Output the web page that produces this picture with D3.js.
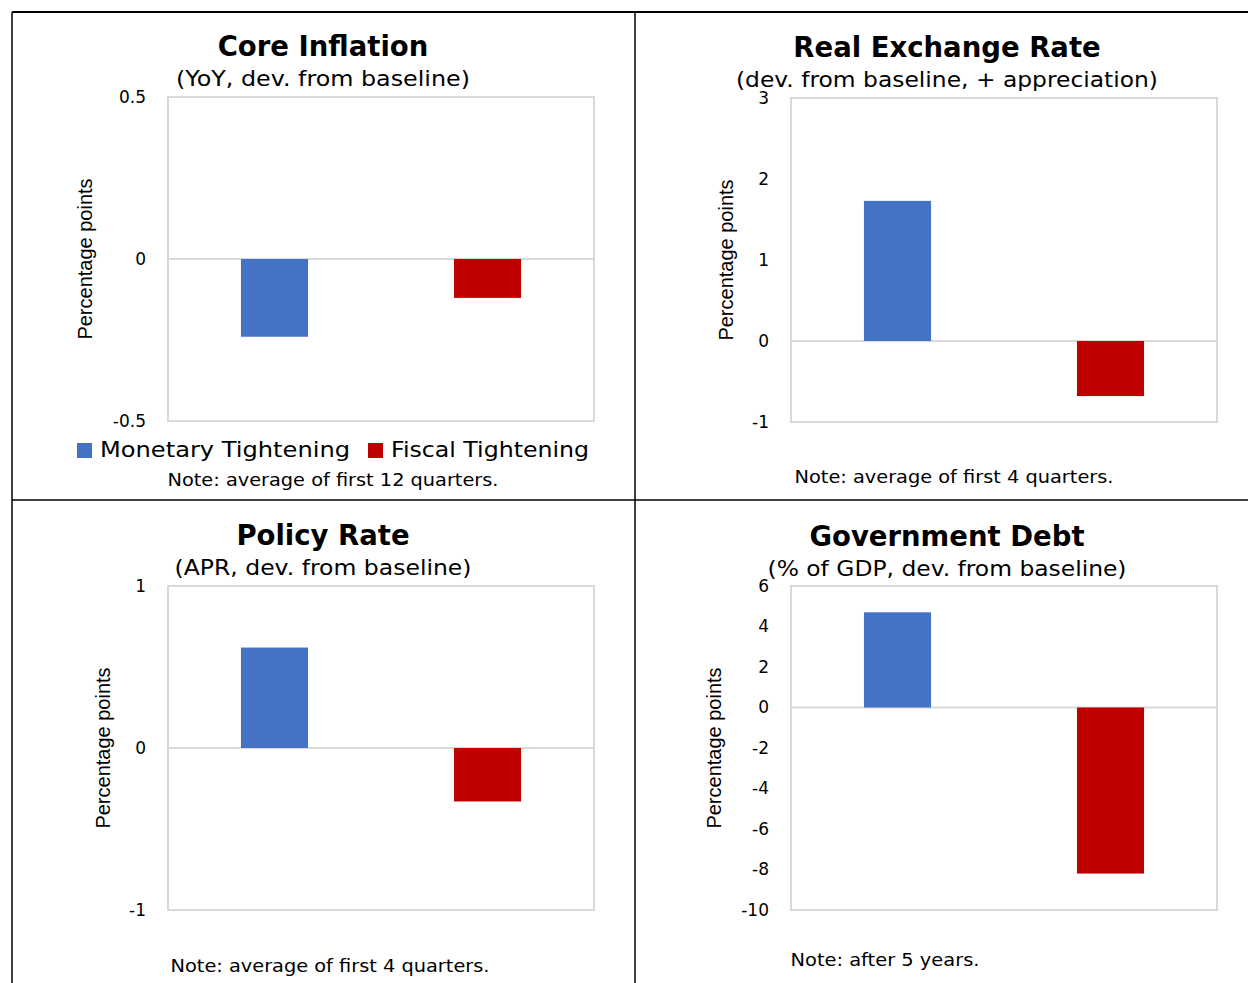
<!DOCTYPE html>
<html><head><meta charset="utf-8">
<script src="https://cdn.jsdelivr.net/npm/d3@7"></script>
<style>body{margin:0;background:#fff}</style></head>
<body><svg id="c" width="1248" height="983"></svg>
<script>
const categories = ["Monetary Tightening", "Fiscal Tightening"];
const colors = ["#4472c4", "#c00000"];
const titles = ["Core Inflation", "Real Exchange Rate", "Policy Rate", "Government Debt"];
const subtitles = ["(YoY, dev. from baseline)", "(dev. from baseline, + appreciation)", "(APR, dev. from baseline)", "(% of GDP, dev. from baseline)"];
const notes = ["Note: average of first 12 quarters.", "Note: average of first 4 quarters.", "Note: average of first 4 quarters.", "Note: after 5 years."];
const coreInflation = [-0.24, -0.12];
const realExchange = [1.73, -0.68];
const policyRate = [0.62, -0.33];
const govDebt = [4.7, -8.2];
const ticks = [[-0.5, 0, 0.5], [-1, 0, 1, 2, 3], [-1, 0, 1], [-10, -8, -6, -4, -2, 0, 2, 4, 6]];
const values = [coreInflation, realExchange, policyRate, govDebt];

const svg = d3.select("#c");
const font = "DejaVu Sans, Verdana, sans-serif";

// panel frame lines
svg.append("line").attr("x1", 12).attr("x2", 1248).attr("y1", 12).attr("y2", 12).attr("stroke", "#000").attr("stroke-width", 2);
svg.append("line").attr("x1", 12).attr("x2", 1248).attr("y1", 500).attr("y2", 500).attr("stroke", "#000").attr("stroke-width", 1.5);
svg.append("line").attr("x1", 12).attr("x2", 12).attr("y1", 12).attr("y2", 983).attr("stroke", "#000").attr("stroke-width", 1.5);
svg.append("line").attr("x1", 635).attr("x2", 635).attr("y1", 12).attr("y2", 983).attr("stroke", "#000").attr("stroke-width", 1.5);

const panels = [
  { x0: 168, y0: 97, cx: 323, titleY: 56, subY: 86, noteY: 486, yTitleX: 92, noteX: 333, subW: 294, noteW: 331 },
  { x0: 791, y0: 98, cx: 947, titleY: 57, subY: 87, noteY: 483, yTitleX: 733, noteX: 954, subW: 422, noteW: 319 },
  { x0: 168, y0: 586, cx: 323, titleY: 545, subY: 575, noteY: 972, yTitleX: 110, noteX: 330, subW: 297, noteW: 319 },
  { x0: 791, y0: 586, cx: 947, titleY: 546, subY: 576, noteY: 966, yTitleX: 721, noteX: 885, subW: 359, noteW: 189 },
];
const pw = 426, ph = 324;
const fmt = v => String(v);

panels.forEach((p, i) => {
  const g = svg.append("g");
  const domain = d3.extent(ticks[i]);
  const y = d3.scaleLinear().domain(domain).range([p.y0 + ph, p.y0]);
  const x = d3.scaleBand().domain(categories).range([p.x0, p.x0 + pw]).paddingInner(0.685).paddingOuter(0.3425);

  g.append("text").attr("x", p.cx).attr("y", p.titleY).attr("text-anchor", "middle")
    .attr("font-family", font).attr("font-weight", "bold").attr("font-size", 27.5).text(titles[i]);
  g.append("text").attr("x", p.cx).attr("y", p.subY).attr("text-anchor", "middle")
    .attr("font-family", font).attr("font-size", 22)
    .attr("textLength", p.subW).attr("lengthAdjust", "spacingAndGlyphs").text(subtitles[i]);

  g.append("rect").attr("x", p.x0).attr("y", p.y0).attr("width", pw).attr("height", ph)
    .attr("fill", "none").attr("stroke", "#d9d9d9").attr("stroke-width", 2);

  const ax = g.append("g").attr("transform", `translate(${p.x0 - 20},0)`)
    .call(d3.axisLeft(y).tickValues(ticks[i]).tickFormat(fmt).tickSize(0).tickPadding(2));
  ax.select(".domain").remove();
  ax.selectAll("text").attr("font-family", font).attr("font-size", 17).attr("fill", "#000");

  g.append("line").attr("x1", p.x0).attr("x2", p.x0 + pw).attr("y1", y(0)).attr("y2", y(0))
    .attr("stroke", "#d9d9d9").attr("stroke-width", 2);

  g.selectAll(".bar").data(values[i]).join("rect")
    .attr("x", (d, j) => x(categories[j])).attr("width", x.bandwidth())
    .attr("y", d => y(Math.max(0, d))).attr("height", d => Math.abs(y(d) - y(0)))
    .attr("fill", (d, j) => colors[j]);

  g.append("text").attr("transform", `translate(${p.yTitleX},${p.y0 + ph / 2}) rotate(-90)`)
    .attr("text-anchor", "middle").attr("font-family", "Liberation Sans Narrow, Arial Narrow, sans-serif")
    .attr("font-size", 20).text("Percentage points");

  g.append("text").attr("x", p.noteX).attr("y", p.noteY).attr("text-anchor", "middle")
    .attr("font-family", font).attr("font-size", 17)
    .attr("textLength", p.noteW).attr("lengthAdjust", "spacingAndGlyphs").text(notes[i]);
});

// legend in first panel
const leg = svg.append("g").attr("font-family", font).attr("font-size", 22);
const legX = [77, 368];
const legW = [250, 198];
categories.forEach((c, j) => {
  leg.append("rect").attr("x", legX[j]).attr("y", 443).attr("width", 15).attr("height", 15).attr("fill", colors[j]);
  leg.append("text").attr("x", legX[j] + 23).attr("y", 457)
    .attr("textLength", legW[j]).attr("lengthAdjust", "spacingAndGlyphs").text(c);
});
</script></body></html>
